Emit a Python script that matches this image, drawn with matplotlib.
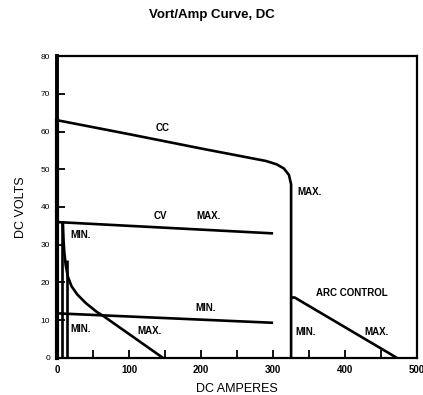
import matplotlib
matplotlib.use("Agg")
import matplotlib.pyplot as plt
import numpy as np

plt.rcParams['font.family'] = ['Liberation Sans', 'DejaVu Sans']

# Data
cc_x = [0, 100, 200, 290, 305, 315, 322, 325, 325]
cc_y = [63, 59.3, 55.5, 52.2, 51.3, 50.2, 48.5, 46, 0]
cv_max_x = [0, 300]
cv_max_y = [36, 33]
cv_min_x = [0, 300]
cv_min_y = [11.8, 9.3]
droop_x = [8, 9, 10, 12, 15, 20, 28, 40, 55, 65, 147]
droop_y = [36, 31, 28, 24.5, 21.5, 19, 16.8, 14.5, 12.2, 11, 0]
left_v1_x = [7, 7]
left_v1_y = [36, 0]
left_v2_x = [14, 14]
left_v2_y = [26, 0]
cc_left_x = [0, 0]
cc_left_y = [63, 0]
arc_x = [325, 330, 472]
arc_y = [16, 16, 0]

labels = [
    ("CC", 146, 61), ("CV", 143, 37.6), ("MAX.", 210, 37.6),
    ("MIN.", 32, 32.6), ("MIN.", 206, 13.2), ("MIN.", 32, 7.7),
    ("MAX.", 129, 7.2), ("MAX.", 351, 44), ("ARC CONTROL", 410, 17.2),
    ("MIN.", 345, 6.9), ("MAX.", 444, 6.9),
]

xticks_major = [0, 100, 200, 300, 400, 500]
xticks_minor = [50, 150, 250, 350, 450]
yticks = [0, 10, 20, 30, 40, 50, 60, 70, 80]

fig = plt.figure(figsize=(4.23, 3.95), dpi=100)
ax = fig.add_axes([0.135, 0.094, 0.851, 0.764])

lw = 1.9
for xs, ys in [(cc_x, cc_y), (cv_max_x, cv_max_y), (cv_min_x, cv_min_y),
               (droop_x, droop_y), (left_v1_x, left_v1_y), (left_v2_x, left_v2_y),
               (arc_x, arc_y)]:
    ax.plot(xs, ys, color='black', lw=lw, solid_joinstyle='round', solid_capstyle='butt', clip_on=False)
ax.plot(cc_left_x, cc_left_y, color='black', lw=3.0, clip_on=False)

for t, x, y in labels:
    ax.text(x, y, t, fontsize=7, fontweight='bold', ha='center', va='center',
            family=['Liberation Sans Narrow', 'Liberation Sans', 'DejaVu Sans'])

ax.set_xlim(0, 500)
ax.set_ylim(0, 80)
ax.set_xticks(xticks_major)
ax.set_xticks(xticks_minor, minor=True)
ax.set_yticks(yticks)
ax.set_xticklabels([str(v) for v in xticks_major], fontsize=7, fontweight='bold')
ax.set_yticklabels([str(v) for v in yticks], fontsize=6)
ax.tick_params(axis='both', which='both', direction='in', length=6, width=1.3,
               top=False, right=False, pad=5)
for s in ax.spines.values():
    s.set_linewidth(1.6)
ax.spines['left'].set_linewidth(2.8)

ax.set_xlabel("DC AMPERES", fontsize=9, labelpad=6)
ax.set_ylabel("DC VOLTS", fontsize=9, labelpad=10)
fig.text(0.5, 0.962, "Vort/Amp Curve, DC", fontsize=9.5, fontweight='bold',
         ha='center', va='center')

fig.savefig("out.png", dpi=100)
